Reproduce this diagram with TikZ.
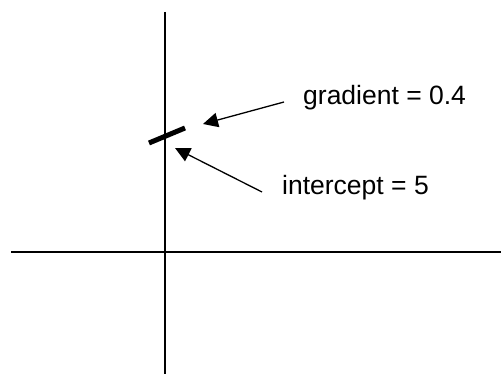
\documentclass[tikz,border=0pt]{standalone}
\usepackage{fontspec}
\setmainfont{Liberation Sans}
\usetikzlibrary{arrows.meta}

\begin{document}
\begin{tikzpicture}[x=1pt, y=-1pt, >={Triangle[length=15pt,width=14.5pt]},
    tag/.style={anchor=west, inner sep=0pt, font=\fontsize{26.5}{30}\selectfont}]
  \useasboundingbox (0,0) rectangle (501,374);
  % axes
  \draw[line width=1.9pt] (164.7,12) -- (164.7,374);
  \draw[line width=1.9pt] (11,251.7) -- (501,251.7);

  % short piece of the line
  \draw[line width=5pt] (149,143) -- (185,128);

  % labels
  \node[tag] (grad) at (303,98) {gradient = 0.4};
  \node[tag] (icpt) at (282,188) {intercept = 5};
  \coordinate (gradtip) at (203,124);
  \coordinate (icpttip) at (175,148);

  % pointers
  \draw[->, line width=1.3pt] ([shift={(-19,4)}]grad.west) -- (gradtip);
  \draw[->, line width=1.3pt] ([shift={(-20,4)}]icpt.west) -- (icpttip);
\end{tikzpicture}
\end{document}
